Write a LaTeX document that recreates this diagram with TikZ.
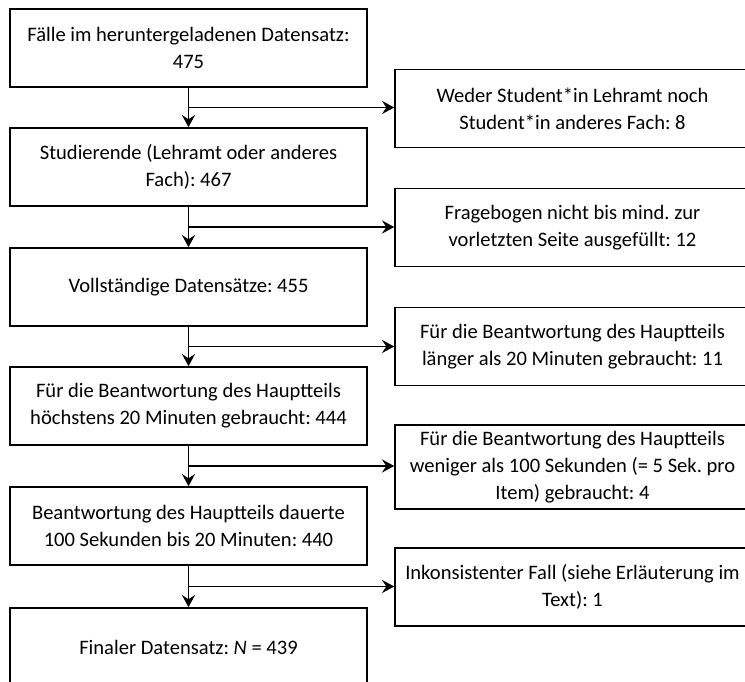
\documentclass[tikz,border=0pt]{standalone}
\usepackage{fontspec}
\setmainfont{Carlito}
\frenchspacing
\usetikzlibrary{calc,arrows.meta,positioning}
\tikzset{%
    stage/.style={%
        rectangle, draw=black, line width=0.9pt, minimum width=7.14cm, minimum height=1.56cm,
        text centered, align=center, font=\fontsize{11.7}{15.5}\selectfont
    },
    excluded/.style={%
        rectangle, draw=black, line width=0.9pt, minimum width=7.1cm, minimum height=1.56cm,
        text centered, align=center, font=\fontsize{11.7}{15.5}\selectfont
    },
    flow/.style={%
        line width=0.9pt, -{Stealth[length=7pt,width=7.5pt,inset=2.5pt]}
    },
}
\begin{document}
\begin{tikzpicture}[x=0.02cm,y=-0.02cm]

    \clip (0,0) rectangle (745,682);

    % main path
    \node[stage] (loaded)   at (188.5,48)  {Fälle im heruntergeladenen Datensatz:\\475};
    \node[stage] (students) at (188.5,167) {Studierende (Lehramt oder anderes\\Fach): 467};
    \node[stage] (complete) at (188.5,287) {Vollständige Datensätze: 455};
    \node[stage] (maxtime)  at (188.5,406) {Für die Beantwortung des Hauptteils\\höchstens 20 Minuten gebraucht: 444};
    \node[stage] (range)    at (188.5,526) {Beantwortung des Hauptteils dauerte\\100 Sekunden bis 20 Minuten: 440};
    \node[stage] (final)    at (188.5,647) {Finaler Datensatz: \textit{N} = 439};

    % exclusions
    \node[excluded] (noStudent) at (572.5,108.5) {Weder Student*in Lehramt noch\\Student*in anderes Fach: 8};
    \node[excluded] (notFilled) at (572.5,227.5) {Fragebogen nicht bis mind. zur\\vorletzten Seite ausgefüllt: 12};
    \node[excluded] (tooLong)   at (572.5,346.5) {Für die Beantwortung des Hauptteils\\länger als 20 Minuten gebraucht: 11};
    \node[excluded] (tooShort)  at (572.5,467)   {Für die Beantwortung des Hauptteils\\weniger als 100 Sekunden (= 5 Sek. pro\\Item) gebraucht: 4};
    \node[excluded] (inconsistent) at (572.5,587) {Inkonsistenter Fall (siehe Erläuterung im\\Text): 1};

    \coordinate (b1) at ($(loaded.south)!0.5!(students.north)$);
    \coordinate (b2) at ($(students.south)!0.5!(complete.north)$);
    \coordinate (b3) at ($(complete.south)!0.5!(maxtime.north)$);
    \coordinate (b4) at ($(maxtime.south)!0.5!(range.north)$);
    \coordinate (b5) at ($(range.south)!0.5!(final.north)$);

    \draw[flow] (loaded.south) -- (students.north);
    \draw[flow] (students.south) -- (complete.north);
    \draw[flow] (complete.south) -- (maxtime.north);
    \draw[flow] (maxtime.south) -- (range.north);
    \draw[flow] (range.south) -- (final.north);

    \draw[flow] (b1) -- (b1 -| noStudent.west);
    \draw[flow] (b2) -- (b2 -| notFilled.west);
    \draw[flow] (b3) -- (b3 -| tooLong.west);
    \draw[flow] (b4) -- (b4 -| tooShort.west);
    \draw[flow] (b5) -- (b5 -| inconsistent.west);

\end{tikzpicture}
\end{document}
